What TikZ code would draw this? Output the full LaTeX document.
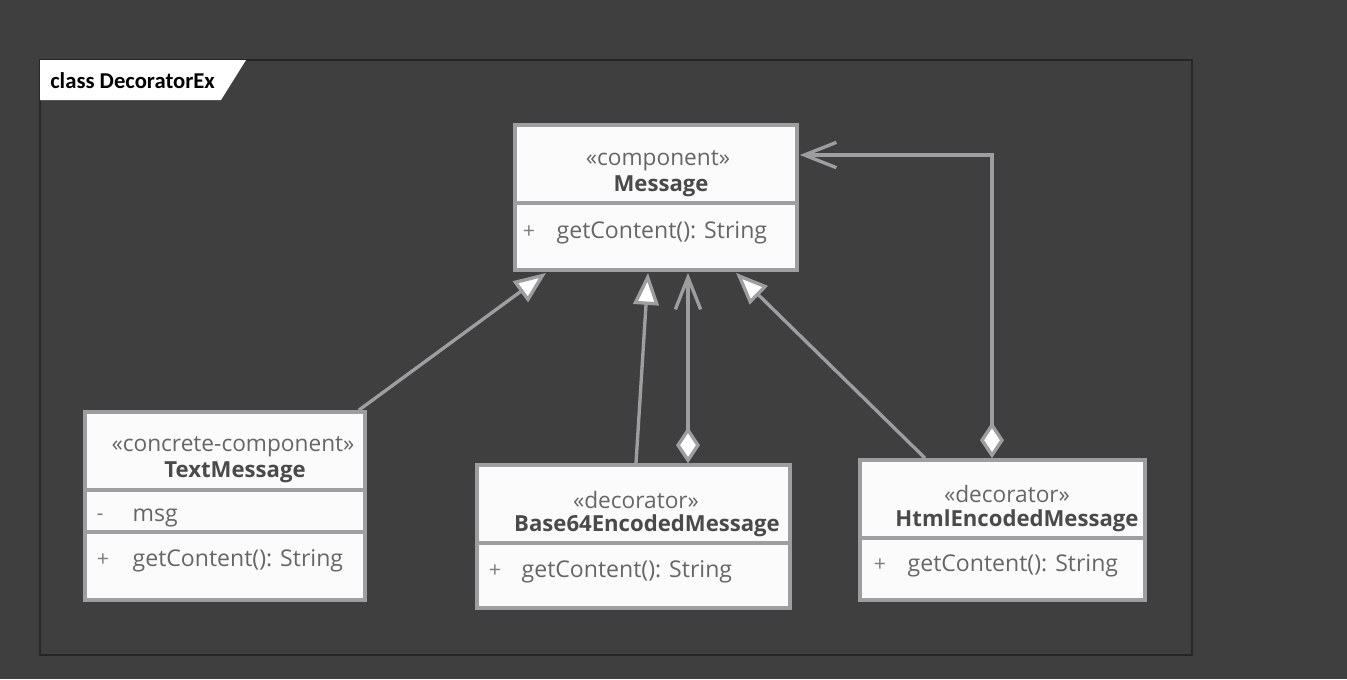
\documentclass[tikz,border=0pt]{standalone}
\usepackage{fontspec}
\setmainfont{Open Sans}
\newfontfamily\framefont{Carlito}
\usetikzlibrary{arrows.meta,calc}

\definecolor{bggrey}{HTML}{3F3F3F}
\definecolor{boxfill}{HTML}{FBFBFB}
\definecolor{boxline}{HTML}{9E9EA0}
\definecolor{txtgrey}{HTML}{666666}
\definecolor{namegrey}{HTML}{4A4A4A}

\begin{document}
\begin{tikzpicture}[x=0.75pt, y=-0.75pt,
  classbox/.style={draw=boxline, fill=boxfill, line width=2.8pt, inner sep=0pt},
  stereo/.style={text=txtgrey, yshift=-2.5pt, font=\fontsize{17}{20}\selectfont},
  cname/.style={text=namegrey, yshift=-2.5pt, font=\fontsize{16.6}{20}\selectfont\bfseries},
  member/.style={text=txtgrey, anchor=west, yshift=-2.5pt, font=\fontsize{17.3}{20}\selectfont},
  vis/.style={text=txtgrey!85, yshift=-2.5pt, font=\fontsize{16}{20}\selectfont},
  divider/.style={draw=boxline, line width=2.4pt},
  conn/.style={draw=boxline, line width=2.5pt},
  gen/.style={conn, -{Triangle[length=24pt, width=19pt, fill=white, line width=2.5pt]}},
  agg/.style={conn, {Diamond[length=27pt, width=18pt, fill=white, line width=2.5pt]}-{Straight Barb[length=24pt, width=19pt, line width=2.5pt]}}]

\fill[bggrey] (0,0) rectangle (1347,679);
\useasboundingbox (0,0) rectangle (1347,679);

% frame
\draw[black!85, line width=0.8pt] (40,60) rectangle (1192,655);
\fill[white] (40,60) -- (246,60) -- (221,100) -- (40,100) -- cycle;
\node[anchor=west, inner sep=0pt, font=\framefont\fontsize{17}{18}\selectfont\bfseries] (title) at (50,81) {class DecoratorEx};

% Message
\node[classbox, minimum width=211.5pt, minimum height=108.75pt] (msg) at (656,197.5) {};
\draw[divider] (msg.west |- 0,203) -- (msg.east |- 0,203);
\node[stereo] (msg-st) at (658,157) {«component»};
\node[cname] (msg-nm) at (661,183) {Message};
\node[vis] (msg-v) at (529,229) {+};
\node[member] (msg-op) at (552,229) {getContent(): String};

% TextMessage
\node[classbox, minimum width=210pt, minimum height=141pt] (tmsg) at (225,506) {};
\draw[divider] (tmsg.west |- 0,490) -- (tmsg.east |- 0,490);
\draw[divider] (tmsg.west |- 0,532) -- (tmsg.east |- 0,532);
\node[stereo] (tmsg-st) at (233,443) {«concrete-component»};
\node[cname] (tmsg-nm) at (235,469) {TextMessage};
\node[vis] (tmsg-v1) at (100,514) {-};
\node[member] (tmsg-at) at (128,515) {msg};
\node[vis] (tmsg-v2) at (103,557) {+};
\node[member] (tmsg-op) at (128,557) {getContent(): String};

% Base64EncodedMessage
\node[classbox, minimum width=234.75pt, minimum height=107.25pt] (b64) at (633.5,536.5) {};
\draw[divider] (b64.west |- 0,543) -- (b64.east |- 0,543);
\node[stereo] (b64-st) at (636,497) {«decorator»};
\node[cname] (b64-nm) at (647,522) {Base64EncodedMessage};
\node[vis] (b64-v) at (495,568) {+};
\node[member] (b64-op) at (517,568) {getContent(): String};

% HtmlEncodedMessage
\node[classbox, minimum width=213.75pt, minimum height=105pt] (html) at (1002.5,530) {};
\draw[divider] (html.west |- 0,538) -- (html.east |- 0,538);
\node[stereo] (html-st) at (1007,491) {«decorator»};
\node[cname] (html-nm) at (1017,517) {HtmlEncodedMessage};
\node[vis] (html-v) at (880,562) {+};
\node[member] (html-op) at (903,562) {getContent(): String};

% generalizations
\draw[gen] ($(tmsg.north east)+(-8,0)$) -- ($(msg.south west)+(33,1)$);
\draw[gen] ($(b64.north)+(2.5,0)$) -- ($(msg.south)+(-8,1)$);
\draw[gen] ($(html.north)+(-77.5,0)$) -- ($(msg.south)+(80,1)$);

% aggregations
\draw[agg] ($(b64.north)+(54.5,0)$) -- ($(msg.south)+(32,1)$);
\draw[agg] ($(html.north)+(-10.5,0)$) |- ($(msg.east)+(1,-42.5)$);

\end{tikzpicture}
\end{document}
